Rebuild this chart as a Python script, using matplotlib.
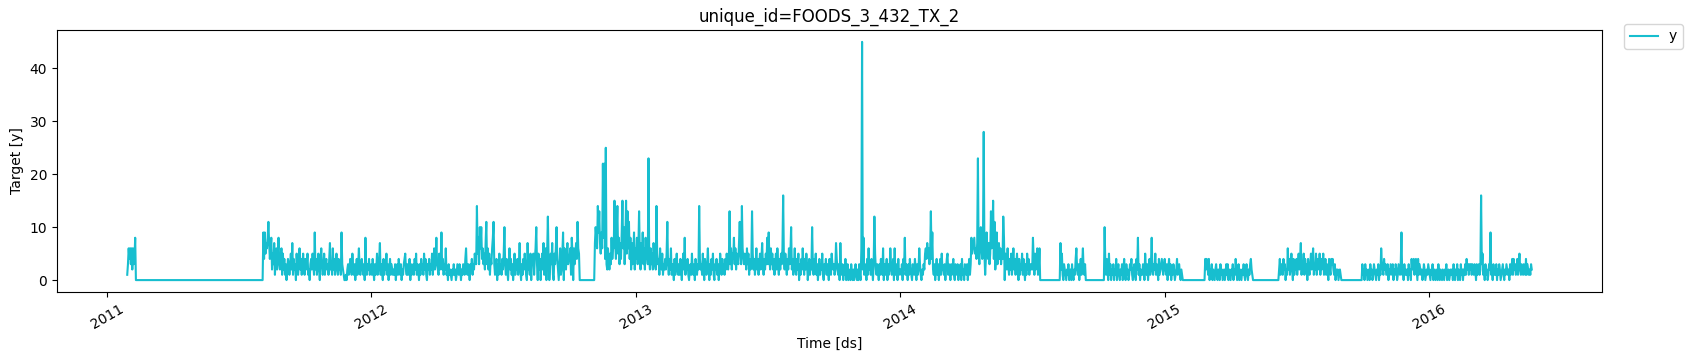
import numpy as np
import pandas as pd
from matplotlib import pyplot as plt

# one character per day, value = position in CODES (a=10, ..., J=45)
CODES = "0123456789abcdefghijklmnopqrstuvwxyzABCDEFGHIJ"

start_date = "2011-01-29"
unique_id = "FOODS_3_432_TX_2"

# month by month, days grouped 1-10 / 11-20 / 21-end
sales_2011 = [
    "136",
    "4636263480 0000000000 00000000",
    "0000000000 0000000000 0000000000 0",
    "0000000000 0000000000 0000000000",
    "0000000000 0000000000 0000000000 0",
    "0000000000 0000000000 0000000000",
    "0000000000 0000000000 0000000000 0",
    "0000949576 8b74682537 14625832461",
    "5241302431 3527142305 2136241352",
    "1423512034 2531924135 20463125134",
    "2314723162 4135214231 9321001023",
    "1243152130 2413621342 13082132412",
]
sales_2012 = [
    "3142031251 2471320413 25130241321",
    "2130231421 3021345213 124031231",
    "4251320314 2315241032 41325136248",
    "3215239241 3261203121 0213120132",
    "1320213214 6213203241 32543e583a6",
    "a463527b36 2514368b31 2403152314",
    "25a3142036 2413025132 41372031425",
    "3107231504 35146a3052 40352713605",
    "c402537105 36a4203612 5906425734",
    "4618506357 4b65000000 00000000000",
    "00007a86e9 d7596m8m4p 3264253846",
    "6f749e5837 49f6a37f5d 6b482735926",
]
sales_2013 = [
    "4836d52749 3628453n42 63527432e53",
    "4163251324 25b3142613 20413521",
    "3142035281 3241023152 13042132e42",
    "3152042136 2031425103 2413025314",
    "231425324d 3625483625 437b53e6435",
    "426351423d 5241362413 5247314253",
    "8394263524 1352631425 36g42531426",
    "35a2413621 4250314263 14253024132",
    "a314251302 4132510324 1320421532",
    "3127421307 2130214013 02103102013",
    "10203106J2 8132041623 14203c5213",
    "2031421603 1240312631 24061320412",
]
sales_2014 = [
    "2130428132 0314210321 42031263102",
    "1325647563 5d49213024 13024152",
    "2130245132 0312410321 30213041203",
    "2130241385 6785647n53 7a648s5149",
    "64735d68f4 b259357463 54c80542631",
    "4251362413 5204132514 2031524132",
    "3284152361 2600000000 00000000000",
    "0000000007 2510321021 30120310214",
    "6213024136 2130000000 0000000000",
    "000000000a 3142051302 13021402310",
    "2130241031 2013241023 1042813021",
    "1320521302 4138213251 32041234213",
]
sales_2015 = [
    "4213024130 2132012412 31021000000",
    "0000000000 0000000000 00000424",
    "3140213021 0231021031 20120131302",
    "1021302142 0130210213 1023102134",
    "2100000000 0000000000 00000000000",
    "0000000241 3214230216 2413520413",
    "2413524713 2514230421 35246132514",
    "3251423512 4132042143 42130212012",
    "1000000000 0000000000 0000000000",
    "3120312012 0312013210 21302163214",
    "2312302132 1302132013 2139120312",
    "1203120423 4134204132 12013201213",
]
sales_2016 = [
    "2102130120 1203102102 10213012012",
    "1203102130 2103120213 142313231",
    "3213203123 12g3512031 20132912031",
    "2130213201 2310213212 0312414231",
    "2413521321 3214132121 32",
]


def decode(months):
    return [CODES.index(c) for m in months for c in m.replace(" ", "")]


years = [sales_2011, sales_2012, sales_2013, sales_2014, sales_2015, sales_2016]
expected = [337, 366, 365, 365, 365, 143]
for yr, months, n in zip(range(2011, 2017), years, expected):
    if len(decode(months)) != n:
        raise ValueError(f"{yr}: {len(decode(months))} days, want {n}, "
                         f"months {[len(m.replace(' ', '')) for m in months]}")

y = np.array([v for months in years for v in decode(months)])
ds = pd.date_range(start_date, periods=len(y), freq="D")

fig = plt.figure(figsize=(16.97, 3.61), dpi=100)
ax = fig.add_axes([57 / 1697, 69 / 361, 1545 / 1697, 262 / 361])

ax.plot(ds, y, color="#17becf", linewidth=1.5, label="y")
ax.set_title(f"unique_id={unique_id}", fontsize=12)
ax.set_xlabel("Time [ds]")
ax.set_ylabel("Target [y]")
ax.tick_params(axis="x", labelrotation=30)
ax.legend(loc="upper left", bbox_to_anchor=(1.01, 1.05))

fig.savefig("out.png", dpi=100)
